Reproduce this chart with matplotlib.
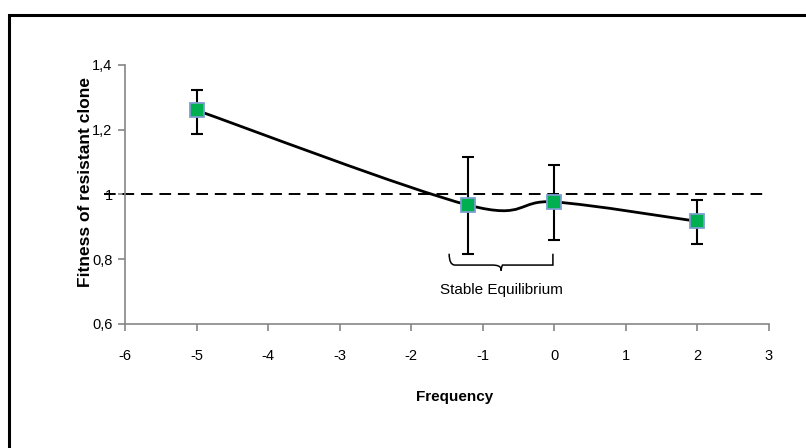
import matplotlib
matplotlib.use('Agg')
import matplotlib.pyplot as plt
from matplotlib.path import Path
from matplotlib.patches import PathPatch, Rectangle

# data
freq = [-5, -1.2, 0, 2]
fitness = [1.26, 0.967, 0.977, 0.917]
err_low = [1.188, 0.816, 0.858, 0.846]
err_high = [1.323, 1.117, 1.092, 0.984]
x_ticks = [-6, -5, -4, -3, -2, -1, 0, 1, 2, 3]
y_ticks = [0.6, 0.8, 1.0, 1.2, 1.4]
y_labels = ['0,6', '0,8', '1', '1,2', '1,4']
ref_x = [-6.3, 2.93]
ref_y = [1.0, 1.0]

plt.rcParams['font.family'] = ['Liberation Sans', 'DejaVu Sans']

fig = plt.figure(figsize=(8.06, 4.48), dpi=100)
ax = fig.add_axes([0.1551, 0.2768, 0.7990, 0.5782])

# outer chart border (cut off at right and bottom)
top = 1 - 15 / 448
fig.patches.append(Rectangle((9 / 806, -0.2), 1.2, top + 0.2,
                             transform=fig.transFigure, fill=False,
                             edgecolor='black', linewidth=2.2))

# dashed reference line at 1
ax.plot(ref_x, ref_y, color='black', linestyle=(0, (6, 3.5)), linewidth=1.4,
        clip_on=False, zorder=2)

# Excel style smoothed line (cubic bezier through the points)
n = len(freq)
verts = [(freq[0], fitness[0])]
codes = [Path.MOVETO]
for i in range(n - 1):
    p0 = (freq[max(i - 1, 0)], fitness[max(i - 1, 0)])
    p1 = (freq[i], fitness[i])
    p2 = (freq[i + 1], fitness[i + 1])
    p3 = (freq[min(i + 2, n - 1)], fitness[min(i + 2, n - 1)])
    c1 = (p1[0] + (p2[0] - p0[0]) / 6, p1[1] + (p2[1] - p0[1]) / 6)
    c2 = (p2[0] - (p3[0] - p1[0]) / 6, p2[1] - (p3[1] - p1[1]) / 6)
    verts += [c1, c2, p2]
    codes += [Path.CURVE4] * 3
ax.add_patch(PathPatch(Path(verts, codes), facecolor='none', edgecolor='black',
                       linewidth=2, zorder=3))

yerr = [[f - lo for f, lo in zip(fitness, err_low)],
        [hi - f for f, hi in zip(fitness, err_high)]]
ax.errorbar(freq, fitness, yerr=yerr, fmt='none', ecolor='black', elinewidth=1.5,
            capsize=4.5, capthick=1.5, zorder=4)
ax.plot(freq, fitness, linestyle='none', marker='s', markersize=10,
        markerfacecolor='#00B050', markeredgecolor='#7B9FD0', markeredgewidth=1.3,
        zorder=5)

# brace under the stable points
bx0, bx1, by = -1.47, -0.02, 0.817
bm = (bx0 + bx1) / 2
bv = [(bx0, by), (bx0, by - 0.035), (bx0 + 0.08, by - 0.035), (bm - 0.12, by - 0.035),
      (bm - 0.02, by - 0.035), (bm, by - 0.045), (bm, by - 0.052),
      (bm, by - 0.045), (bm + 0.02, by - 0.035), (bm + 0.12, by - 0.035),
      (bx1 - 0.08, by - 0.035), (bx1, by - 0.035), (bx1, by)]
bc = [Path.MOVETO, Path.CURVE3, Path.CURVE3, Path.LINETO,
      Path.CURVE3, Path.CURVE3, Path.LINETO,
      Path.CURVE3, Path.CURVE3, Path.LINETO,
      Path.CURVE3, Path.CURVE3, Path.LINETO]
ax.add_patch(PathPatch(Path(bv, bc), facecolor='none', edgecolor='black', linewidth=1.1))
ax.text(bm, 0.705, 'Stable Equilibrium', ha='center', va='center', fontsize=11)

ax.set_xlim(-6, 3)
ax.set_ylim(0.6, 1.4)
ax.set_xticks(x_ticks)
ax.set_xticklabels([str(t) for t in x_ticks])
ax.set_yticks(y_ticks)
ax.set_yticklabels(y_labels)
for s in ['top', 'right']:
    ax.spines[s].set_visible(False)
for s in ['left', 'bottom']:
    ax.spines[s].set_color('#868686')
    ax.spines[s].set_linewidth(1.2)
ax.tick_params(axis='both', colors='#868686', length=5, width=1.2, labelcolor='black',
               labelsize=10.5)
ax.tick_params(axis='x', pad=13)
ax.tick_params(axis='y', pad=4)

fig.text(455 / 806, 1 - 397 / 448, 'Frequency', ha='center', va='center',
         fontsize=11, fontweight='bold')
fig.text(86 / 806, 1 - 182 / 448, 'Fitness of resistant clone', ha='center', va='center',
         rotation=90, fontsize=12.5, fontweight='bold')

fig.savefig('out.png', dpi=100)
